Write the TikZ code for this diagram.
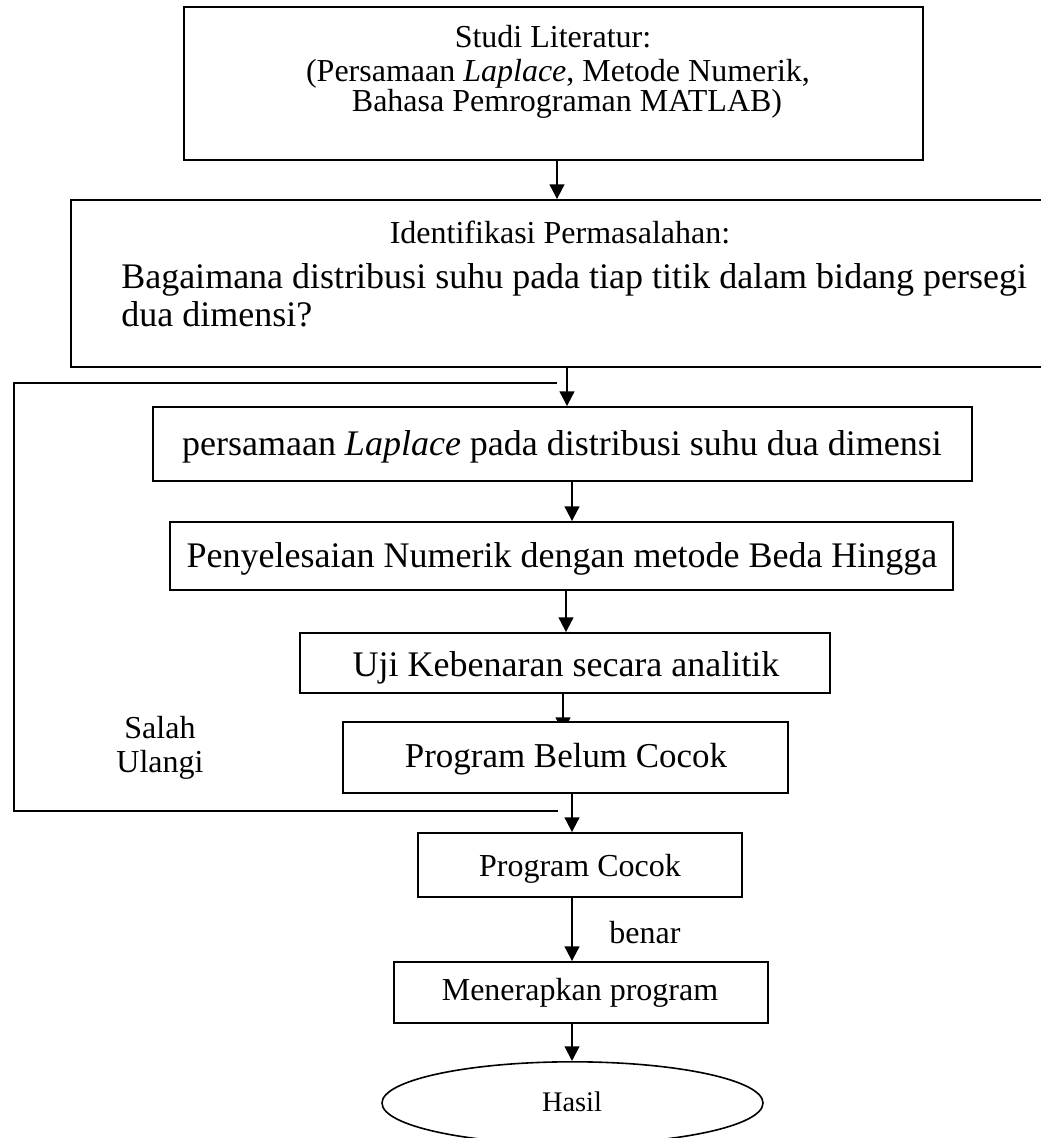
\documentclass[tikz,border=0pt]{standalone}
\usepackage{fontspec}
\setmainfont{Liberation Serif}
\usetikzlibrary{arrows.meta,fit,shapes.geometric,calc}
\pgfdeclarelayer{bg}
\pgfsetlayers{bg,main}
\begin{document}
\begin{tikzpicture}[x=0.75pt,y=-0.75pt,
  box/.style={draw, line width=1.4pt, inner sep=0pt, fill=white},
  arr/.style={line width=1.5pt, -{Triangle[width=11pt,length=11pt]}},
  ln/.style={line width=1.4pt},
  txt/.style={inner sep=0pt},
  fA/.style={font=\fontsize{24}{28}\selectfont},
  fB/.style={font=\fontsize{27}{32}\selectfont},
  fC/.style={font=\fontsize{26.2}{30}\selectfont},
  fD/.style={font=\fontsize{24}{28}\selectfont},
  fE/.style={font=\fontsize{21.3}{25}\selectfont}]
\useasboundingbox (0,0) rectangle (1040,1138);
% arrow x positions
\coordinate (a1) at (557,0);
\coordinate (a2) at (567,0);
\coordinate (a3) at (572,0);
\coordinate (a4) at (566,0);
\coordinate (a5) at (563,0);
\coordinate (a6) at (572,0);
\coordinate (a7) at (572,0);
\coordinate (a8) at (572,0);
% boxes
\node[box, fit={(184,7)(923,160)}] (b1) {};
\node[txt, fA, anchor=base] (t1a) at (553,48) {Studi Literatur:};
\node[txt, fA, anchor=base] (t1b) at (558,81) {(Persamaan \textit{Laplace}, Metode Numerik,};
\node[txt, fA, anchor=base] (t1c) at (567,112) {Bahasa Pemrograman MATLAB)};
\node[box, fit={(71,200)(1046,367)}] (b2) {};
\node[txt, fA, anchor=base] (t2a) at (560,243) {Identifikasi Permasalahan:};
\node[txt, fB, anchor=base west] (t2b) at (121,288) {Bagaimana distribusi suhu pada tiap titik dalam bidang persegi};
\node[txt, fB, anchor=base west] (t2c) at (121,326) {dua dimensi?};
\node[box, fit={(153,407)(972,481)}] (b3) {};
\node[txt, fB, anchor=base] (t3) at (562,455) {persamaan \textit{Laplace} pada distribusi suhu dua dimensi};
\node[box, fit={(170,522)(953,590)}] (b4) {};
\node[txt, fB, anchor=base] (t4) at (562,567) {Penyelesaian Numerik dengan metode Beda Hingga};
\node[box, fit={(300,633)(830,693)}] (b5) {};
\node[txt, fB, anchor=base] (t5) at (566,676) {Uji Kebenaran secara analitik};
\node[box, fit={(343,722)(788,793)}] (b6) {};
\node[txt, fC, anchor=base] (t6) at (566,767) {Program Belum Cocok};
\node[box, fit={(418,833)(742,897)}] (b7) {};
\node[txt, fD, anchor=base] (t7) at (580,876) {Program Cocok};
\node[box, fit={(394,962)(768,1023)}] (b8) {};
\node[txt, fD, anchor=base] (t8) at (580,1000) {Menerapkan program};
\node[draw, ellipse, line width=1.2pt, inner sep=0pt, minimum width=285.75pt, minimum height=61.8pt] (e) at (572.5,1103) {};
\node[txt, fE, anchor=base] (te) at (572,1111) {Hasil};
% labels
\node[txt, fD] (ls) at (160,728) {Salah};
\node[txt, fD] (lu) at (160,765) {Ulangi};
\node[txt, fD] (lb) at (645,933) {benar};
% connectors
\draw[arr] (b1.south -| a1) -- (b2.north -| a1);
\draw[arr] (b2.south -| a2) -- (b3.north -| a2);
\draw[arr] (b3.south -| a3) -- (b4.north -| a3);
\draw[arr] (b4.south -| a4) -- (b5.north -| a4);
\begin{pgfonlayer}{bg}
\draw[arr] (b5.south -| a5) -- ($(b6.north -| a5)+(0,11)$);
\end{pgfonlayer}
\draw[arr] (b6.south -| a6) -- (b7.north -| a6);
\draw[arr] (b7.south -| a7) -- (b8.north -| a7);
\draw[arr] (b8.south -| a8) -- (e.north -| a8);
% feedback loop
\coordinate (fb1) at (557,383);
\coordinate (fb2) at (14,383);
\coordinate (fb3) at (14,811);
\coordinate (fb4) at (558,811);
\draw[ln] (fb1) -- (fb2) -- (fb3) -- (fb4);
\end{tikzpicture}
\end{document}
